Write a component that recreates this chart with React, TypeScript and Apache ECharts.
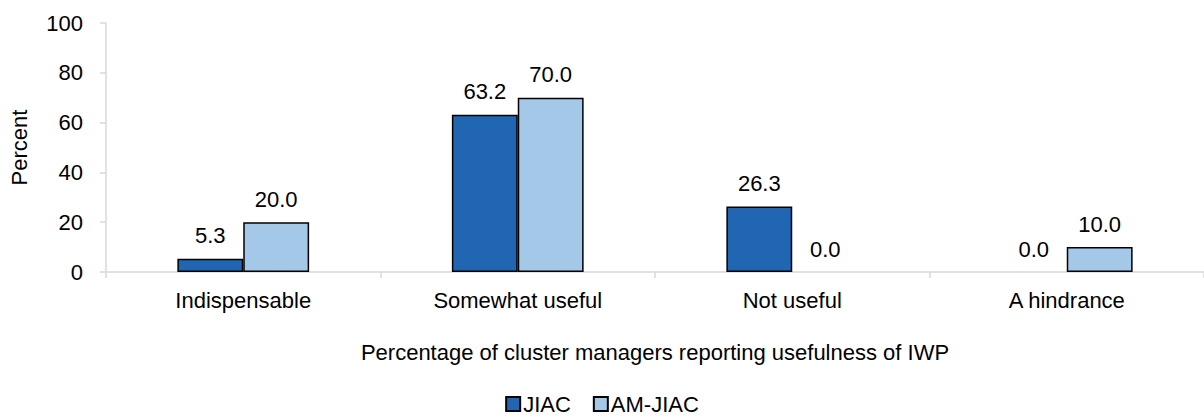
import React, { useEffect, useRef } from "react";
import * as echarts from "echarts";

const categories = ["Indispensable", "Somewhat useful", "Not useful", "A hindrance"];
const jiac = [5.3, 63.2, 26.3, 0.0];
const amJiac = [20.0, 70.0, 0.0, 10.0];
const seriesNames = ["JIAC", "AM-JIAC"];
const xTitle = "Percentage of cluster managers reporting usefulness of IWP";
const yTitle = "Percent";

const FONT = "'Liberation Sans', Arial, sans-serif";
const FS = 22;

const toItems = (arr: number[]) =>
  arr.map((v) =>
    v === 0 ? { value: v, itemStyle: { borderWidth: 0, color: "rgba(0,0,0,0)" } } : v
  );

export default function App() {
  const ref = useRef<HTMLDivElement>(null);
  useEffect(() => {
    if (!ref.current) return;
    const chart = echarts.init(ref.current, null, { renderer: "svg" });
    const label = {
      show: true,
      position: "top",
      distance: 12,
      color: "#000",
      fontSize: FS,
      fontFamily: FONT,
      formatter: (p: any) => Number(p.value).toFixed(1),
    };
    chart.setOption({
      animation: false,
      textStyle: { fontFamily: FONT, color: "#000" },
      grid: { left: 106, right: -8, top: 23, bottom: 147, containLabel: false },
      legend: {
        top: 393,
        left: "center",
        padding: 0,
        itemWidth: 14,
        itemHeight: 14,
        itemGap: 22,
        icon: "rect",
        textStyle: { fontSize: FS, fontFamily: FONT, color: "#000", padding: [0, 0, 0, -2] },
        data: seriesNames,
      },
      xAxis: {
        type: "category",
        data: categories,
        name: xTitle,
        nameLocation: "middle",
        nameGap: 69,
        nameTextStyle: { fontSize: FS, fontFamily: FONT, color: "#000" },
        axisLine: { lineStyle: { color: "#d9d9d9", width: 1.5 } },
        axisTick: { show: true, length: 6, lineStyle: { color: "#d9d9d9", width: 1.5 } },
        axisLabel: { fontSize: FS, fontFamily: FONT, color: "#000", margin: 17 },
      },
      yAxis: {
        type: "value",
        min: 0,
        max: 100,
        interval: 20,
        name: yTitle,
        nameLocation: "middle",
        nameGap: 76,
        nameRotate: 90,
        nameTextStyle: { fontSize: FS, fontFamily: FONT, color: "#000" },
        axisLine: { show: true, lineStyle: { color: "#d9d9d9", width: 1.5 } },
        axisTick: { show: true, length: 6, lineStyle: { color: "#d9d9d9", width: 1.5 } },
        splitLine: { show: false },
        axisLabel: { fontSize: FS, fontFamily: FONT, color: "#000", margin: 23 },
      },
      series: [
        {
          name: seriesNames[0],
          type: "bar",
          data: toItems(jiac),
          barGap: "0%",
          barCategoryGap: "52%",
          itemStyle: { color: "#2166b2", borderColor: "#000", borderWidth: 1.5 },
          label,
        },
        {
          name: seriesNames[1],
          type: "bar",
          data: toItems(amJiac),
          itemStyle: { color: "#a3c8e8", borderColor: "#000", borderWidth: 1.5 },
          label,
        },
      ],
    });
    return () => chart.dispose();
  }, []);
  return (
    <div
      ref={ref}
      style={{ position: "absolute", left: 0, top: 0, width: 1204, height: 419 }}
    />
  );
}
